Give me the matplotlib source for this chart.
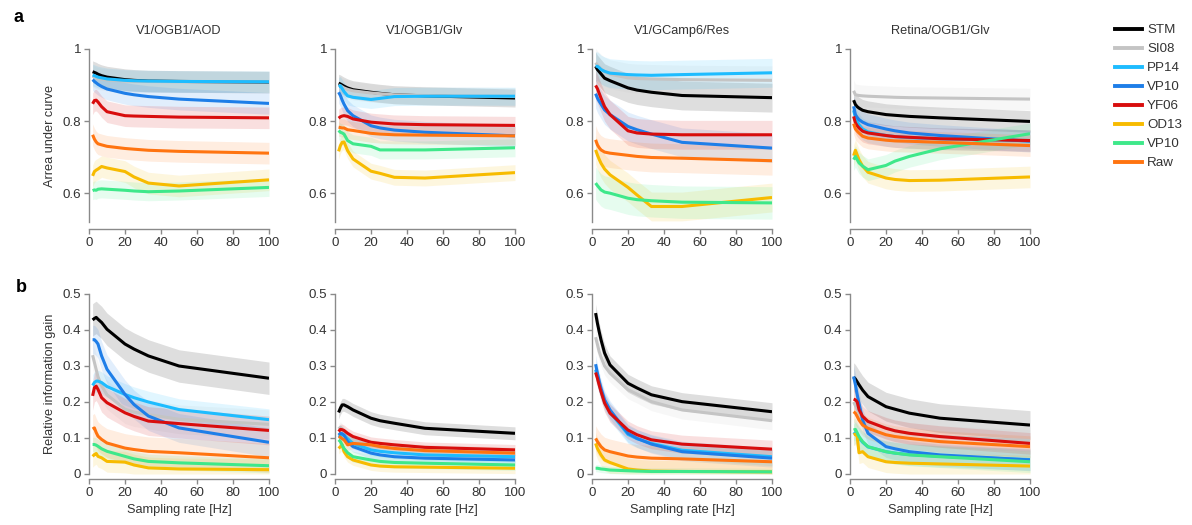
import numpy as np
import matplotlib
matplotlib.use("Agg")
import matplotlib.pyplot as plt
from matplotlib.lines import Line2D

plt.rcParams['font.family'] = ['Liberation Sans', 'DejaVu Sans']

# ---------------- data ----------------
rates = [2, 3, 4, 5, 7, 10, 20, 25, 33, 50, 100]
methods = ["STM", "SI08", "PP14", "VP10", "YF06", "OD13", "VP10", "Raw"]
colors = ["#000000", "#c4c4c4", "#1ebcff", "#1e7ee8", "#d80d0d", "#f7bb00", "#3ee88a", "#ff7410"]

titles = ["V1/OGB1/AOD", "V1/OGB1/Glv", "V1/GCamp6/Res", "Retina/OGB1/Glv"]

# Row a: area under curve, one list per method (order = methods)
auc_v1_ogb1_aod = [
    [0.937, 0.935, 0.933, 0.930, 0.926, 0.922, 0.915, 0.913, 0.911, 0.910, 0.908],
    [0.925, 0.922, 0.920, 0.918, 0.916, 0.914, 0.911, 0.910, 0.910, 0.909, 0.909],
    [0.928, 0.926, 0.924, 0.922, 0.920, 0.917, 0.913, 0.912, 0.911, 0.910, 0.909],
    [0.915, 0.910, 0.906, 0.902, 0.896, 0.889, 0.877, 0.873, 0.868, 0.861, 0.849],
    [0.848, 0.857, 0.858, 0.853, 0.840, 0.826, 0.815, 0.814, 0.813, 0.811, 0.809],
    [0.648, 0.660, 0.664, 0.667, 0.674, 0.670, 0.660, 0.645, 0.628, 0.620, 0.637],
    [0.607, 0.609, 0.608, 0.611, 0.612, 0.611, 0.608, 0.606, 0.604, 0.606, 0.616],
    [0.762, 0.750, 0.742, 0.737, 0.734, 0.730, 0.724, 0.722, 0.719, 0.716, 0.711],
]
auc_v1_ogb1_glv = [
    [0.905, 0.903, 0.900, 0.897, 0.892, 0.887, 0.880, 0.877, 0.873, 0.870, 0.864],
    [0.900, 0.898, 0.895, 0.892, 0.888, 0.884, 0.878, 0.876, 0.873, 0.871, 0.868],
    [0.896, 0.898, 0.890, 0.882, 0.870, 0.866, 0.860, 0.863, 0.868, 0.869, 0.869],
    [0.880, 0.871, 0.858, 0.847, 0.829, 0.815, 0.787, 0.781, 0.775, 0.769, 0.759],
    [0.808, 0.812, 0.814, 0.815, 0.813, 0.806, 0.797, 0.795, 0.792, 0.790, 0.788],
    [0.716, 0.732, 0.741, 0.742, 0.718, 0.695, 0.661, 0.655, 0.644, 0.642, 0.657],
    [0.774, 0.769, 0.767, 0.764, 0.746, 0.737, 0.730, 0.720, 0.720, 0.720, 0.726],
    [0.783, 0.782, 0.781, 0.781, 0.776, 0.774, 0.766, 0.764, 0.762, 0.761, 0.759],
]
auc_v1_gcamp6_res = [
    [0.952, 0.943, 0.937, 0.931, 0.919, 0.912, 0.892, 0.886, 0.880, 0.871, 0.865],
    [0.962, 0.955, 0.950, 0.945, 0.937, 0.930, 0.920, 0.918, 0.917, 0.915, 0.913],
    [0.952, 0.952, 0.948, 0.943, 0.938, 0.933, 0.929, 0.928, 0.927, 0.929, 0.934],
    [0.876, 0.864, 0.855, 0.847, 0.831, 0.818, 0.785, 0.776, 0.764, 0.741, 0.725],
    [0.899, 0.890, 0.877, 0.864, 0.840, 0.818, 0.773, 0.767, 0.764, 0.762, 0.762],
    [0.720, 0.706, 0.694, 0.683, 0.667, 0.651, 0.616, 0.595, 0.563, 0.563, 0.588],
    [0.628, 0.621, 0.615, 0.609, 0.603, 0.600, 0.586, 0.582, 0.579, 0.575, 0.573],
    [0.748, 0.734, 0.726, 0.720, 0.714, 0.711, 0.705, 0.702, 0.699, 0.697, 0.690],
]
auc_retina_ogb1_glv = [
    [0.858, 0.846, 0.840, 0.836, 0.830, 0.826, 0.818, 0.816, 0.813, 0.809, 0.799],
    [0.884, 0.873, 0.872, 0.871, 0.870, 0.869, 0.867, 0.866, 0.865, 0.864, 0.861],
    [0.830, 0.810, 0.798, 0.790, 0.778, 0.770, 0.760, 0.757, 0.754, 0.751, 0.746],
    [0.841, 0.818, 0.810, 0.804, 0.797, 0.790, 0.778, 0.773, 0.767, 0.760, 0.744],
    [0.813, 0.795, 0.787, 0.781, 0.772, 0.767, 0.760, 0.757, 0.755, 0.751, 0.746],
    [0.704, 0.719, 0.706, 0.693, 0.675, 0.658, 0.642, 0.638, 0.635, 0.636, 0.645],
    [0.693, 0.702, 0.693, 0.684, 0.675, 0.665, 0.677, 0.689, 0.702, 0.723, 0.765],
    [0.793, 0.778, 0.772, 0.767, 0.758, 0.753, 0.747, 0.745, 0.744, 0.741, 0.732],
]

# Row b: relative information gain
rig_v1_ogb1_aod = [
    [0.428, 0.432, 0.435, 0.430, 0.421, 0.402, 0.361, 0.347, 0.328, 0.300, 0.266],
    [0.330, 0.310, 0.290, 0.270, 0.245, 0.220, 0.180, 0.172, 0.165, 0.152, 0.138],
    [0.246, 0.254, 0.258, 0.258, 0.254, 0.243, 0.221, 0.212, 0.200, 0.179, 0.151],
    [0.373, 0.373, 0.368, 0.361, 0.328, 0.291, 0.221, 0.193, 0.161, 0.128, 0.088],
    [0.217, 0.240, 0.244, 0.235, 0.212, 0.198, 0.170, 0.160, 0.147, 0.140, 0.121],
    [0.049, 0.054, 0.057, 0.049, 0.045, 0.035, 0.033, 0.025, 0.017, 0.014, 0.012],
    [0.082, 0.082, 0.080, 0.077, 0.070, 0.063, 0.049, 0.042, 0.035, 0.031, 0.023],
    [0.125, 0.128, 0.115, 0.105, 0.096, 0.086, 0.072, 0.068, 0.063, 0.059, 0.045],
]
rig_v1_ogb1_glv = [
    [0.171, 0.183, 0.192, 0.192, 0.187, 0.178, 0.155, 0.148, 0.141, 0.127, 0.113],
    [0.125, 0.130, 0.125, 0.115, 0.105, 0.095, 0.080, 0.076, 0.072, 0.067, 0.060],
    [0.102, 0.106, 0.108, 0.108, 0.098, 0.085, 0.067, 0.063, 0.059, 0.053, 0.048],
    [0.108, 0.113, 0.112, 0.108, 0.090, 0.076, 0.058, 0.053, 0.048, 0.044, 0.039],
    [0.118, 0.124, 0.123, 0.121, 0.113, 0.104, 0.088, 0.085, 0.081, 0.074, 0.067],
    [0.071, 0.076, 0.081, 0.062, 0.048, 0.039, 0.025, 0.022, 0.020, 0.019, 0.016],
    [0.095, 0.090, 0.080, 0.071, 0.059, 0.048, 0.039, 0.035, 0.032, 0.030, 0.025],
    [0.104, 0.102, 0.098, 0.095, 0.081, 0.085, 0.081, 0.076, 0.071, 0.065, 0.058],
]
rig_v1_gcamp6_res = [
    [0.447, 0.419, 0.395, 0.373, 0.336, 0.303, 0.252, 0.239, 0.220, 0.201, 0.173],
    [0.380, 0.360, 0.340, 0.325, 0.300, 0.280, 0.234, 0.222, 0.201, 0.178, 0.148],
    [0.290, 0.270, 0.250, 0.230, 0.200, 0.172, 0.110, 0.098, 0.085, 0.066, 0.048],
    [0.305, 0.280, 0.258, 0.238, 0.206, 0.178, 0.113, 0.099, 0.083, 0.062, 0.044],
    [0.282, 0.266, 0.247, 0.229, 0.197, 0.169, 0.122, 0.109, 0.095, 0.083, 0.069],
    [0.085, 0.071, 0.062, 0.053, 0.039, 0.032, 0.014, 0.011, 0.008, 0.007, 0.006],
    [0.016, 0.016, 0.015, 0.014, 0.013, 0.011, 0.009, 0.008, 0.007, 0.007, 0.006],
    [0.099, 0.090, 0.083, 0.076, 0.067, 0.062, 0.050, 0.047, 0.044, 0.042, 0.034],
]
rig_retina_ogb1_glv = [
    [0.269, 0.264, 0.256, 0.248, 0.233, 0.215, 0.187, 0.180, 0.169, 0.155, 0.136],
    [0.200, 0.190, 0.180, 0.170, 0.155, 0.145, 0.128, 0.120, 0.112, 0.104, 0.093],
    [0.110, 0.115, 0.108, 0.100, 0.088, 0.075, 0.062, 0.058, 0.054, 0.049, 0.040],
    [0.271, 0.248, 0.220, 0.197, 0.150, 0.113, 0.076, 0.070, 0.062, 0.053, 0.039],
    [0.208, 0.206, 0.200, 0.179, 0.160, 0.146, 0.127, 0.120, 0.113, 0.104, 0.085],
    [0.109, 0.111, 0.104, 0.059, 0.062, 0.048, 0.034, 0.032, 0.030, 0.028, 0.022],
    [0.122, 0.124, 0.114, 0.104, 0.090, 0.076, 0.062, 0.058, 0.053, 0.048, 0.034],
    [0.173, 0.169, 0.160, 0.150, 0.136, 0.127, 0.109, 0.104, 0.099, 0.090, 0.076],
]

# Shaded error band half-widths per method
auc_err = [
    [0.030, 0.030, 0.030, 0.030, 0.030, 0.030, 0.025, 0.030],
    [0.025, 0.025, 0.025, 0.030, 0.025, 0.022, 0.025, 0.025],
    [0.040, 0.040, 0.040, 0.040, 0.040, 0.040, 0.045, 0.040],
    [0.030, 0.030, 0.030, 0.030, 0.030, 0.030, 0.030, 0.030],
]
rig_err = [
    [0.045, 0.040, 0.030, 0.040, 0.040, 0.030, 0.020, 0.040],
    [0.018, 0.015, 0.015, 0.015, 0.015, 0.015, 0.015, 0.015],
    [0.025, 0.025, 0.025, 0.025, 0.025, 0.030, 0.010, 0.035],
    [0.040, 0.030, 0.030, 0.030, 0.030, 0.030, 0.030, 0.030],
]

auc_panels = [auc_v1_ogb1_aod, auc_v1_ogb1_glv, auc_v1_gcamp6_res, auc_retina_ogb1_glv]
rig_panels = [rig_v1_ogb1_aod, rig_v1_ogb1_glv, rig_v1_gcamp6_res, rig_retina_ogb1_glv]

xticks = [0, 20, 40, 60, 80, 100]
auc_yticks = [0.6, 0.8, 1.0]
auc_yticklabels = ["0.6", "0.8", "1"]
rig_yticks = [0, 0.1, 0.2, 0.3, 0.4, 0.5]
rig_yticklabels = ["0", "0.1", "0.2", "0.3", "0.4", "0.5"]

# ---------------- figure ----------------
W, H = 1192, 525
fig = plt.figure(figsize=(W / 100, H / 100), dpi=100)

lefts = [89, 335, 592, 850]
width = 180
axcol = "#8a8a8a"
txtcol = "#333333"
FS_TICK = 9.6
FS_LAB = 9.2


def style(ax, bottom_out):
    for s in ["top", "right"]:
        ax.spines[s].set_visible(False)
    for s in ["left", "bottom"]:
        ax.spines[s].set_color(axcol)
        ax.spines[s].set_linewidth(1.0)
    ax.spines["bottom"].set_position(("outward", bottom_out))
    ax.tick_params(direction="out", length=3.5, width=1.0, color=axcol,
                   labelsize=FS_TICK, labelcolor=txtcol, pad=2)
    ax.set_xlim(0, 100)
    ax.set_xticks(xticks)
    ax.set_xticklabels([str(t) for t in xticks])


for i in range(4):
    # Row a
    ax = fig.add_axes([lefts[i] / W, 1 - 222 / H, width / W, (222 - 49) / H])
    style(ax, 5)
    for j in range(8):
        y = np.array(auc_panels[i][j])
        e = auc_err[i][j]
        ax.fill_between(rates, y - e, y + e, color=colors[j], alpha=0.13, lw=0)
    for j in range(8):
        ax.plot(rates, auc_panels[i][j], color=colors[j], lw=2.2, solid_capstyle="butt")
    ax.set_ylim(0.52, 1.0)
    ax.set_yticks(auc_yticks)
    ax.set_yticklabels(auc_yticklabels)
    ax.set_title(titles[i], fontsize=FS_LAB, color=txtcol, pad=11)
    if i == 0:
        ax.set_ylabel("Arrea under curve", fontsize=FS_LAB, color=txtcol, labelpad=5)

    # Row b
    ax = fig.add_axes([lefts[i] / W, 1 - 474 / H, width / W, (474 - 294) / H])
    style(ax, 3.5)
    for j in range(8):
        y = np.array(rig_panels[i][j])
        e = rig_err[i][j]
        ax.fill_between(rates, np.clip(y - e, 0, None), y + e, color=colors[j], alpha=0.13, lw=0)
    for j in range(8):
        ax.plot(rates, rig_panels[i][j], color=colors[j], lw=2.2, solid_capstyle="butt")
    ax.set_ylim(0, 0.5)
    ax.set_yticks(rig_yticks)
    ax.set_yticklabels(rig_yticklabels)
    ax.set_xlabel("Sampling rate [Hz]", fontsize=FS_LAB, color=txtcol, labelpad=4)
    if i == 0:
        ax.set_ylabel("Relative information gain", fontsize=FS_LAB, color=txtcol, labelpad=5)

fig.text(14 / W, 1 - 17 / H, "a", fontsize=13, fontweight="bold", va="center", ha="left")
fig.text(16 / W, 1 - 288 / H, "b", fontsize=13, fontweight="bold", va="center", ha="left")

handles = [Line2D([], [], color=c, lw=2.8) for c in colors]
fig.legend(handles, methods, loc="upper left", bbox_to_anchor=(1115 / W, 1 - 24 / H),
           frameon=False, borderpad=0, borderaxespad=0, handlelength=2.0,
           handletextpad=0.4, labelspacing=0.5, fontsize=9.6, labelcolor=txtcol)

fig.savefig("out.png", dpi=100)
